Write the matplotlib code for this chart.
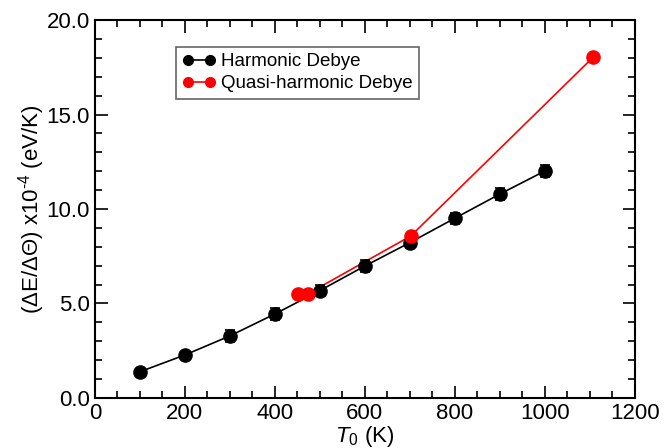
import matplotlib
matplotlib.use("Agg")
import matplotlib.pyplot as plt
from matplotlib.lines import Line2D
from matplotlib.ticker import MultipleLocator, FormatStrFormatter

plt.rcParams['font.family'] = ['Liberation Sans', 'DejaVu Sans']
plt.rcParams['mathtext.fontset'] = 'custom'
plt.rcParams['mathtext.rm'] = 'Liberation Sans'
plt.rcParams['mathtext.it'] = 'Liberation Sans:italic'

# Data
harm_T = [100, 200, 300, 400, 500, 600, 700, 800, 900, 1000]
harm_val = [1.38, 2.27, 3.28, 4.44, 5.68, 6.98, 8.22, 9.51, 10.79, 12.01]
harm_err = [0.1, 0.12, 0.3, 0.3, 0.3, 0.3, 0.3, 0.3, 0.3, 0.3]
quasi_T = [451, 474, 702, 1108]
quasi_val = [5.48, 5.52, 8.57, 18.05]

fig = plt.figure(figsize=(6.64, 4.48), dpi=100)
ax = fig.add_axes([0.143, 0.112, 0.813, 0.843])

ms = 9.5
ax.plot(harm_T, harm_val, color='black', lw=1.2, zorder=2)
ax.plot(quasi_T, quasi_val, color='red', lw=1.2, zorder=2.5)
ax.errorbar(harm_T, harm_val, yerr=harm_err, fmt='o', color='black', ms=ms,
            capsize=3.5, elinewidth=1.2, capthick=1.2, zorder=3)
ax.plot(quasi_T, quasi_val, 'o', color='red', ms=ms, zorder=4)

ax.set_xlim(0, 1200)
ax.set_ylim(0, 20)
ax.xaxis.set_major_locator(MultipleLocator(200))
ax.xaxis.set_minor_locator(MultipleLocator(50))
ax.yaxis.set_major_locator(MultipleLocator(5))
ax.yaxis.set_minor_locator(MultipleLocator(1))
ax.yaxis.set_major_formatter(FormatStrFormatter('%.1f'))
ax.tick_params(which='both', direction='in', top=True, right=True, labelsize=16, width=1.2)
ax.tick_params(which='major', length=9)
ax.tick_params(which='minor', length=5)
ax.tick_params(axis='x', pad=4)
for s in ax.spines.values():
    s.set_linewidth(1.5)

ax.set_xlabel(r'$T_0$ (K)', fontsize=16, labelpad=0)
ax.set_ylabel(r'($\Delta$E/$\Delta\Theta$) x10$^{\text{-4}}$ (eV/K)', fontsize=16, labelpad=0)

handles = [
    Line2D([0], [0], color='black', lw=1.2, marker='o', ms=7),
    Line2D([0], [0], color='red', lw=1.2, marker='o', ms=7),
]
leg = ax.legend(handles, ['Harmonic Debye', 'Quasi-harmonic Debye'], loc='upper left',
                bbox_to_anchor=(0.15, 0.93), numpoints=2, fontsize=13.5, fancybox=False,
                framealpha=1, edgecolor='#666666', handlelength=1.75, handletextpad=0.3,
                borderpad=0.35, labelspacing=0.25, borderaxespad=0)
leg.get_frame().set_linewidth(1.2)

fig.savefig('out.png', dpi=100)
